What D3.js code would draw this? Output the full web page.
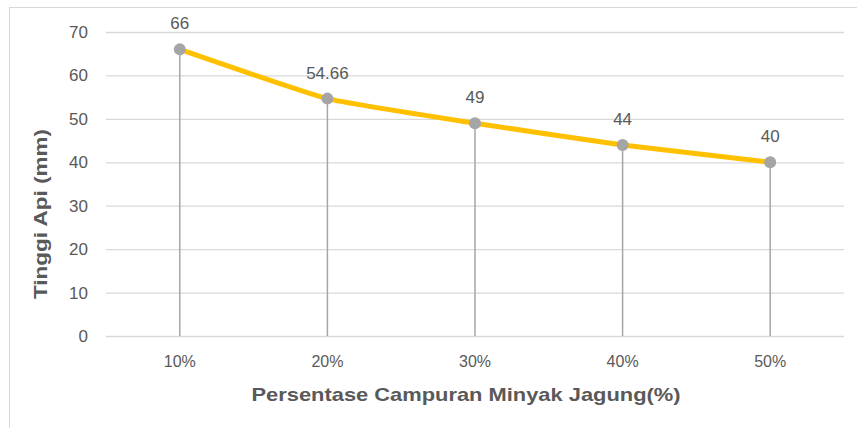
<!DOCTYPE html>
<html>
<head>
<meta charset="utf-8">
<script src="https://cdn.jsdelivr.net/npm/d3@7"></script>
<style>
  html, body { margin: 0; padding: 0; background: #fff; }
  svg { display: block; font-family: "Liberation Sans", Arial, sans-serif; }
</style>
</head>
<body>
<div id="chart"></div>
<script>
// data
const categories = ["10%", "20%", "30%", "40%", "50%"];
const values = [66, 54.66, 49, 44, 40];
const valueLabels = ["66", "54.66", "49", "44", "40"];
const yTicks = [0, 10, 20, 30, 40, 50, 60, 70];

const width = 857, height = 428;
const margin = { top: 32, right: 13, bottom: 92, left: 106 };

const svg = d3.select("#chart").append("svg")
  .attr("width", width)
  .attr("height", height);

// outer chart border (only left/top visible)
svg.append("rect")
  .attr("x", 9.5).attr("y", 7.5)
  .attr("width", 900).attr("height", 500)
  .attr("fill", "none")
  .attr("stroke", "#d9d9d9");

const x = d3.scaleBand()
  .domain(categories)
  .range([margin.left, width - margin.right])
  .padding(0);

const y = d3.scaleLinear()
  .domain([0, 70])
  .range([336, 32]);

// gridlines
svg.append("g")
  .selectAll("line")
  .data(yTicks)
  .join("line")
  .attr("x1", x.range()[0])
  .attr("x2", x.range()[1])
  .attr("y1", d => y(d) + 0.5)
  .attr("y2", d => y(d) + 0.5)
  .attr("stroke", "#d9d9d9")
  .attr("stroke-width", 1.3);

// y tick labels
svg.append("g")
  .selectAll("text")
  .data(yTicks)
  .join("text")
  .attr("x", 88)
  .attr("y", d => y(d))
  .attr("dy", "0.35em")
  .attr("text-anchor", "end")
  .attr("fill", "#595959")
  .attr("font-size", 17)
  .text(d => d);

// x tick labels
svg.append("g")
  .selectAll("text")
  .data(categories)
  .join("text")
  .attr("x", d => x(d) + x.bandwidth() / 2)
  .attr("y", 367)
  .attr("text-anchor", "middle")
  .attr("fill", "#595959")
  .attr("font-size", 16)
  .text(d => d);

const pts = categories.map((c, i) => ({ c, v: values[i], label: valueLabels[i] }));
const cx = d => x(d.c) + x.bandwidth() / 2;

// drop lines
svg.append("g")
  .selectAll("line")
  .data(pts)
  .join("line")
  .attr("x1", d => cx(d)).attr("x2", d => cx(d))
  .attr("y1", d => y(d.v))
  .attr("y2", y(0))
  .attr("stroke", "#a6a6a6")
  .attr("stroke-width", 1.5);

// line (lightly smoothed)
const line = d3.line()
  .x(cx)
  .y(d => y(d.v))
  .curve(d3.curveCardinal.tension(0.6));

svg.append("path")
  .datum(pts)
  .attr("d", line)
  .attr("fill", "none")
  .attr("stroke", "#ffc000")
  .attr("stroke-width", 5)
  .attr("stroke-linecap", "round");

// markers
svg.append("g")
  .selectAll("circle")
  .data(pts)
  .join("circle")
  .attr("cx", cx)
  .attr("cy", d => y(d.v))
  .attr("r", 6)
  .attr("fill", "#a5a5a5");

// value labels
svg.append("g")
  .selectAll("text")
  .data(pts)
  .join("text")
  .attr("x", cx)
  .attr("y", d => y(d.v) - 20)
  .attr("text-anchor", "middle")
  .attr("fill", "#595959")
  .attr("font-size", 17)
  .text(d => d.label);

// axis titles
svg.append("text")
  .attr("x", 466)
  .attr("y", 401)
  .attr("text-anchor", "middle")
  .attr("fill", "#595959")
  .attr("font-size", 19)
  .attr("font-weight", "bold")
  .attr("textLength", 429)
  .attr("lengthAdjust", "spacingAndGlyphs")
  .text("Persentase Campuran Minyak Jagung(%)");

svg.append("text")
  .attr("transform", "translate(47,214) rotate(-90)")
  .attr("text-anchor", "middle")
  .attr("fill", "#595959")
  .attr("font-size", 19)
  .attr("font-weight", "bold")
  .attr("textLength", 170)
  .attr("lengthAdjust", "spacingAndGlyphs")
  .text("Tinggi Api (mm)");
</script>
</body>
</html>
